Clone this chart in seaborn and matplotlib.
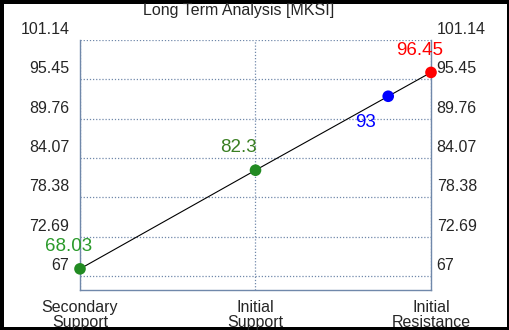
import matplotlib
matplotlib.use("Agg")
import matplotlib.pyplot as plt
import matplotlib.transforms as mtransforms
import numpy as np
import pandas as pd
import seaborn as sns

title = "Long Term Analysis [MKSI]"
level_names = ["Secondary\nSupport", "Initial\nSupport", "Initial\nResistance"]
point_values = [68.03, 82.3, 93, 96.45]
point_labels = ["68.03", "82.3", "93", "96.45"]
point_colors = ["#228b22", "#228b22", "#0000ff", "#ff0000"]
label_colors = ["#2a9a2a", "#3a7f22", "#0000ff", "#ff0000"]
y_ticks = [67, 72.69, 78.38, 84.07, 89.76, 95.45, 101.14]

# the 93 point sits between Initial Support and Initial Resistance, by value
x_pos = [0, 1, 1 + (point_values[2] - point_values[1]) / (point_values[3] - point_values[1]), 2]
df = pd.DataFrame({"x": x_pos, "y": point_values, "label": point_labels})

sns.set_style("white")
plt.rcParams["font.family"] = ["Liberation Sans", "DejaVu Sans"]

frame_color = "#7088aa"

fig = plt.figure(figsize=(5.1, 3.3), dpi=100)
ax = fig.add_axes([80 / 510, 1 - 290 / 330, 351 / 510, 250 / 330])

sns.lineplot(data=df, x="x", y="y", color="black", linewidth=0.8, sort=False, ax=ax)
sns.scatterplot(data=df, x="x", y="y", hue="label", palette=point_colors,
                s=70, edgecolor="none", legend=False, ax=ax, zorder=5, clip_on=False)

# value labels
offsets = [(-8, 16), (-12.5, 16.5), (-16, -19), (-8.5, 16)]
for xv, yv, txt, col, off in zip(x_pos, point_values, point_labels, label_colors, offsets):
    ax.annotate(txt, (xv, yv), xytext=off, textcoords="offset points",
                ha="center", va="center", color=col, fontsize=13.5)

ax.set_xlim(0, 2)
ax.set_ylim(64.97, 101.14)
ax.set_xticks([0, 1, 2])
ax.set_xticklabels(level_names, fontsize=11.5, linespacing=0.95)
ax.set_yticks(y_ticks)
ax.set_yticklabels([f"{v:g}" for v in y_ticks], fontsize=11.5)
ax.set_xlabel("")
ax.set_ylabel("")

ax.tick_params(axis="y", left=False, right=False, labelleft=True, labelright=True, pad=4.2)
ax.tick_params(axis="x", bottom=False, pad=4)

# tick labels sit a bit above their grid lines
shift_left = mtransforms.ScaledTranslation(0, 12 / 100, fig.dpi_scale_trans)
shift_right = mtransforms.ScaledTranslation(-5 / 100, 12 / 100, fig.dpi_scale_trans)
for tick in ax.yaxis.get_major_ticks():
    tick.label1.set_transform(tick.label1.get_transform() + shift_left)
    tick.label2.set_transform(tick.label2.get_transform() + shift_right)

ax.grid(True, color=frame_color, linestyle=(0, (1, 1.5)), linewidth=0.9)
for side in ["left", "right", "bottom"]:
    ax.spines[side].set_color(frame_color)
    ax.spines[side].set_linewidth(1.0)
ax.spines["top"].set_visible(False)

fig.text(238.5 / 510, 1 - 10 / 330, title, ha="center", va="center", fontsize=11.5)

fig.patch.set_edgecolor("black")
fig.patch.set_linewidth(5)

fig.savefig("out.png", dpi=100, edgecolor=fig.get_edgecolor())
